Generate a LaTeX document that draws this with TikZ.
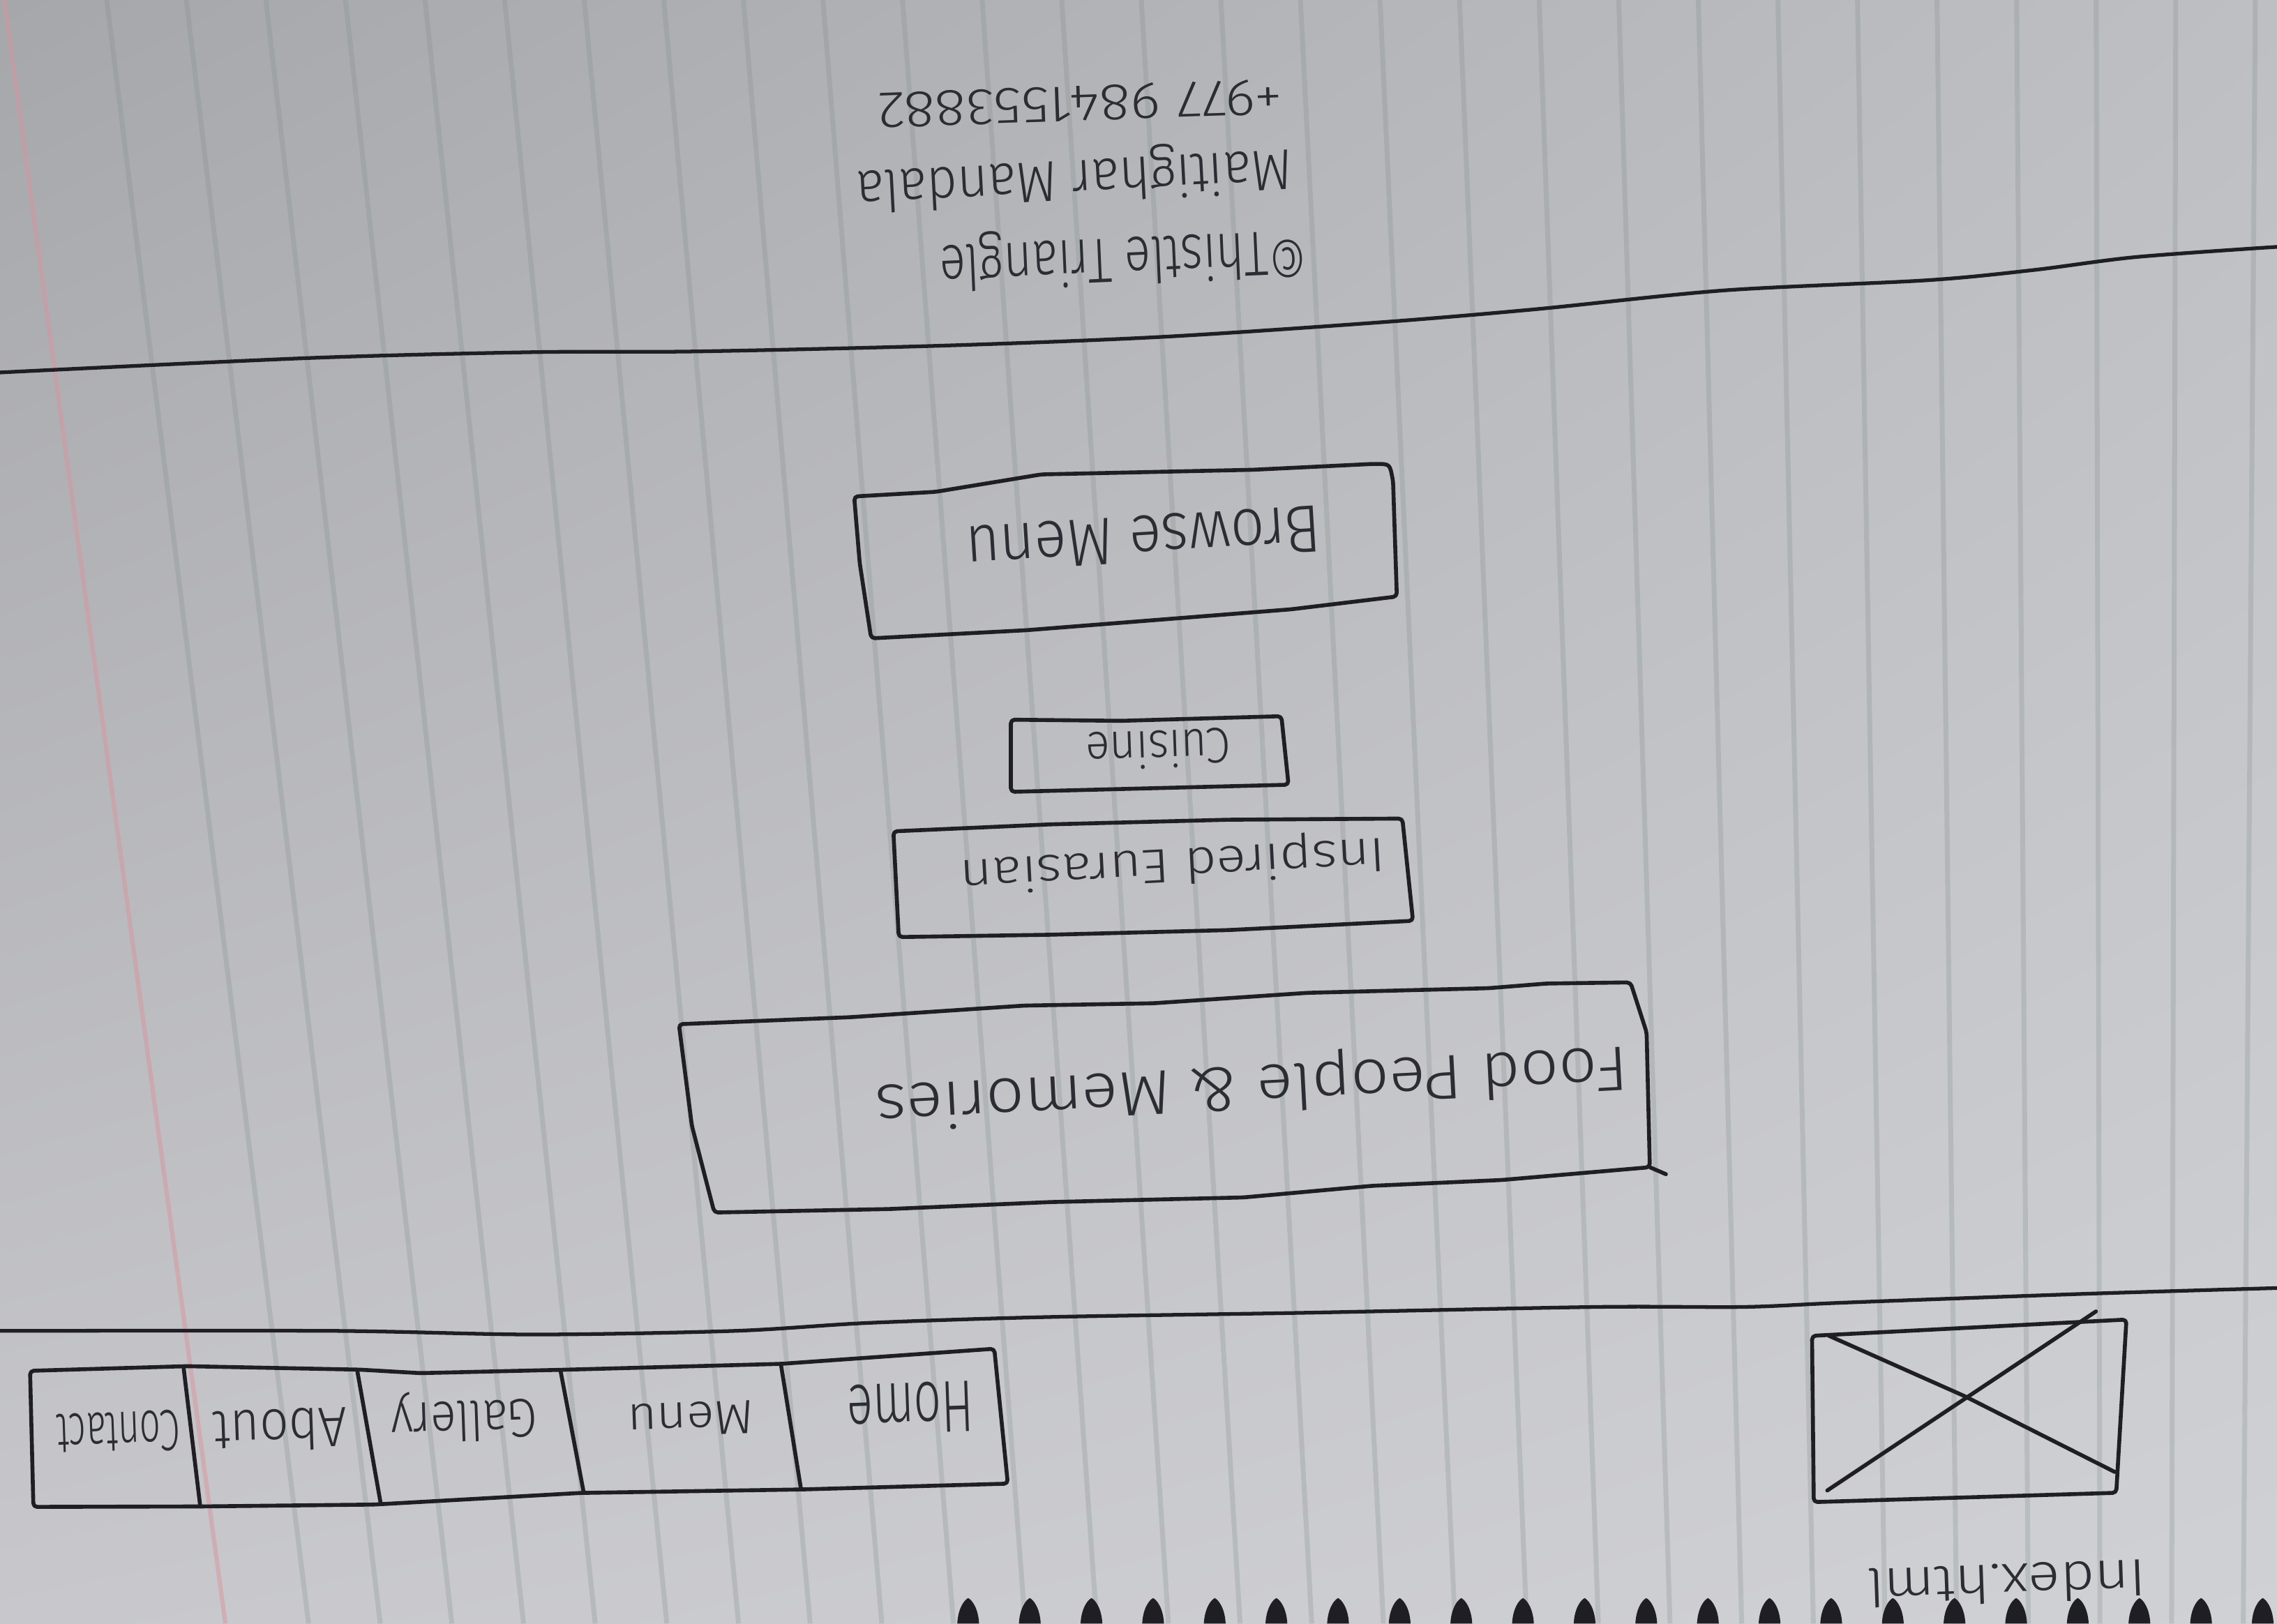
\documentclass[tikz,border=0pt]{standalone}
\usepackage{fontspec}
\setmainfont{Fira Sans}[UprightFont={* Light}]
\usepackage{graphicx}
\usetikzlibrary{shadings}
\definecolor{ink}{RGB}{30,30,36}
\definecolor{pencil}{RGB}{44,44,52}
\definecolor{rulecol}{RGB}{128,142,142}
\definecolor{margincol}{RGB}{214,150,158}
\definecolor{paperA}{RGB}{166,167,171}
\definecolor{paperB}{RGB}{190,191,194}
\definecolor{paperC}{RGB}{200,200,204}
\definecolor{paperD}{RGB}{208,209,213}
% handwritten label squeezed into a given width and height (cm)
\newcommand\hw[3]{\resizebox{#1cm}{#2cm}{#3}}

\begin{document}
\begin{tikzpicture}[x=0.020816cm, y=-0.020816cm,
  inkline/.style={draw=ink, line width=1.6pt, line join=round, line cap=round, rounded corners=1.5pt},
  sepline/.style={draw=ink, line width=1.5pt, line cap=round},
  hand/.style={text=pencil, inner sep=0pt},
  ruling/.style={draw=rulecol, line width=2pt, opacity=0.27},
  ring/.style={fill=ink}]

\useasboundingbox (0,0) rectangle (1568,1118);

% paper
\shade[upper left=paperA, upper right=paperB, lower left=paperC, lower right=paperD]
  (0,0) rectangle (1568,1118);

% ruled lines and margin
\foreach \i in {0,...,27}{
  \pgfmathsetmacro\xt{73.5+54.8*\i}
  \pgfmathsetmacro\xb{\xt+(135-5.3*\i)*1.0295}
  \draw[ruling] (\xt,0) -- (\xb,1118);
}
\draw[draw=margincol, line width=1.8pt, opacity=0.5] (2.9,0) -- (155.2,1118);

% section separators
\draw[sepline] plot[smooth, tension=0.5] coordinates {(0,256.5) (214,246.5) (368,242.5) (480,242) (650,238) (800,232) (950,222) (1057,213) (1187,200) (1327,193) (1400,186) (1471,177) (1568,170)};
\draw[sepline] plot[smooth, tension=0.5] coordinates {(0,916.5) (230,916.5) (368,919) (506,916.5) (598,911) (720,907) (900,904) (1100,900) (1201,900) (1271,897) (1435,891) (1568,887)};

% navigation bar
\draw[inkline] (20.7,944) -- (128.7,940.8) -- (248,943.2) -- (289.5,945.6) -- (390.6,943.2) -- (537.7,939.2) -- (684.7,928.8) -- (694,1021.7) -- (551.5,1025.7) -- (399.8,1028.1) -- (257.4,1036.1) -- (137.9,1037.4) -- (23,1037.7) -- cycle;
\draw[inkline] (126.4,941.6) -- (137.9,1037.4);
\draw[inkline] (245.9,943.2) -- (262,1034.5);
\draw[inkline] (386,944) -- (402,1028);
\draw[inkline] (537.7,939.2) -- (551.5,1024.9);
\node[hand, rotate=182] (nhome) at (627,969.7) {\hw{1.82}{0.72}{Home}};
\node[hand, rotate=182] (nmenu) at (475.6,976.9) {\hw{1.81}{0.47}{Menu}};
\node[hand, rotate=182] (ngal) at (319.5,975.3) {\hw{2.1}{0.58}{Gallery}};
\node[hand, rotate=182] (nabout) at (193,984.9) {\hw{1.92}{0.6}{About}};
\node[hand, rotate=182] (ncontact) at (81.6,986.5) {\hw{1.77}{0.58}{Contact}};

% logo placeholder
\coordinate (lg1) at (1247.8,919.9);
\coordinate (lg2) at (1464.3,908.7);
\coordinate (lg3) at (1457.3,1028);
\coordinate (lg4) at (1249,1034.4);
\draw[inkline] (lg1) -- (lg2) -- (lg3) -- (lg4) -- cycle;
\draw[inkline] (1258.3,1026.4) -- (1443.3,903.1);
\draw[inkline] (1259.5,919.9) -- (1353,961.5) -- (1456.2,1013.6);

% page title
\node[hand, rotate=182] (idx) at (1382,1090.5) {\hw{4.0}{0.56}{Index.html}};

% spiral binding
\foreach \k in {0,...,21}{
  \pgfmathsetmacro\dx{666.7+42.45*\k}
  \fill[ring] ({\dx-7.5},1118) .. controls ({\dx-7},1108) and ({\dx-3},1102) .. (\dx,1100.5) .. controls ({\dx+3},1102) and ({\dx+7},1108) .. ({\dx+7.5},1118) -- cycle;
}

% hero heading
\draw[inkline] (467.5,705.3) -- (585.2,700.5) -- (705.2,692.5) -- (794,690.9) -- (900.6,683.7) -- (1025,680.5) -- (1065,677.3) -- (1122.8,676.5) -- (1133.9,711) -- (1136.1,803.8) -- (1034,812.6) -- (945,816.6) -- (856.2,824.6) -- (722.9,827.8) -- (611.9,832.6) -- (491.9,835) -- (476.4,775) -- cycle;
\draw[inkline] (1136.1,803.8) -- (1147.2,808.6);
\node[hand, rotate=183] (fpm) at (861.8,746.2) {\hw{10.8}{0.68}{Food People \& Memories}};

% subheading
\draw[inkline] (615.2,572.5) -- (723,567.7) -- (845.6,564.5) -- (965.7,563.7) -- (973,634.1) -- (845.6,640.5) -- (723,643.7) -- (618.9,645.3) -- cycle;
\node[hand, rotate=183] (ie) at (807.6,594) {\hw{6.1}{0.52}{Inspired Eurasian}};

\draw[inkline] (696.1,495.6) -- (772,496.4) -- (882.4,493.2) -- (887.3,540.4) -- (696.1,545.3) -- cycle;
\node[hand, rotate=182] (cui) at (797.8,516) {\hw{2.08}{0.54}{Cuisine}};

% call to action button
\draw[inkline] (588.2,341.9) -- (644.2,338.7) -- (717.1,326.7) -- (863,323.5) -- (945,319.5) .. controls (957,319.5) .. (959.3,331.5) -- (961.9,410.8) -- (889,419.6) -- (797.9,426.8) -- (706.7,434) -- (599.9,439.6) -- (592,387.6) -- cycle;
\node[hand, rotate=183.5] (bm) at (787.4,371) {\hw{5.1}{0.66}{Browse Menu}};

% footer
\node[hand, rotate=182.5] (ctt) at (773.8,176) {\hw{5.27}{0.68}{©Thistle Triangle}};
\node[hand, rotate=183] (addr) at (739.5,121.6) {\hw{6.25}{0.62}{Maitighar Mandala}};
\node[hand, rotate=182] (phone) at (743.8,71.2) {\hw{5.81}{0.5}{+977 9841553882}};

\end{tikzpicture}
\end{document}
